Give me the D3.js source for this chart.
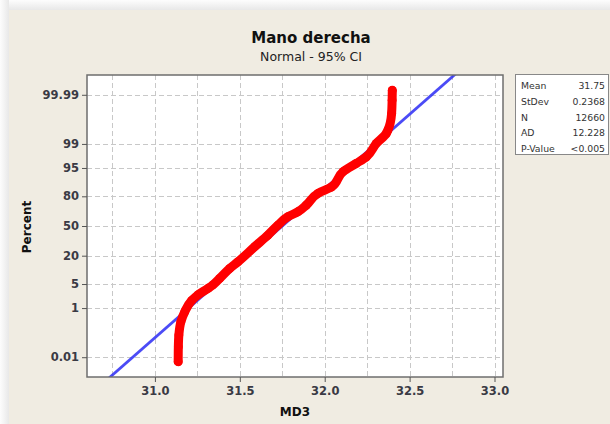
<!DOCTYPE html>
<html><head><meta charset="utf-8">
<script src="https://cdn.jsdelivr.net/npm/d3@7/dist/d3.min.js"></script>
<style>html,body{margin:0;padding:0;background:#fafafa;}svg{display:block;}</style>
</head><body><svg id="c" width="610" height="424"></svg>
<script>
// ---- data ----
const title = "Mano derecha";
const subtitle = "Normal - 95% CI";
const xLabel = "MD3";
const yLabel = "Percent";
const yTicks = [0.01, 1, 5, 20, 50, 80, 95, 99, 99.99];
const yTickLabels = ["0.01", "1", "5", "20", "50", "80", "95", "99", "99.99"];
const xTicks = [31.0, 31.5, 32.0, 32.5, 33.0];
const xTickLabels = ["31.0", "31.5", "32.0", "32.5", "33.0"];
const xGrid = [30.75, 31.0, 31.25, 31.5, 31.75, 32.0, 32.25, 32.5, 32.75, 33.0];
const mdValues   = [31.137, 31.138, 31.141, 31.153, 31.176, 31.216, 31.253, 31.314, 31.341, 31.382, 31.441, 31.488, 31.588, 31.666, 31.725, 31.784, 31.843, 31.892, 31.961, 32.039, 32.108, 32.186, 32.245, 32.304, 32.363, 32.372, 32.394, 32.397, 32.398];
const mdPercents = [0.006, 0.031, 0.1, 0.335, 0.76, 1.72, 2.53, 3.88, 4.73, 6.92, 11.5, 15.4, 27.9, 39.9, 51.1, 60.4, 65.7, 72.4, 82.3, 86.5, 93.8, 96.2, 97.5, 99.04, 99.57, 99.67, 99.93, 99.982, 99.994];
const fitMean = 31.75, fitSd = 0.2368;
const statLabels = ["Mean", "StDev", "N", "AD", "P-Value"];
const statValues = ["31.75", "0.2368", "12660", "12.228", "<0.005"];

// ---- helpers ----
function probit(p){
  const a=[-3.969683028665376e+01,2.209460984245205e+02,-2.759285104469687e+02,1.383577518672690e+02,-3.066479806614716e+01,2.506628277459239e+00];
  const b=[-5.447609879822406e+01,1.615858368580409e+02,-1.556989798598866e+02,6.680131188771972e+01,-1.328068155288572e+01];
  const c=[-7.784894002430293e-03,-3.223964580411365e-01,-2.400758277161838e+00,-2.549732539343734e+00,4.374664141464968e+00,2.938163982698783e+00];
  const d=[7.784695709041462e-03,3.224671290700398e-01,2.445134137142996e+00,3.754408661907416e+00];
  const pl=0.02425, ph=1-pl; let q,r;
  if(p<pl){q=Math.sqrt(-2*Math.log(p));return (((((c[0]*q+c[1])*q+c[2])*q+c[3])*q+c[4])*q+c[5])/((((d[0]*q+d[1])*q+d[2])*q+d[3])*q+1);}
  if(p<=ph){q=p-0.5;r=q*q;return (((((a[0]*r+a[1])*r+a[2])*r+a[3])*r+a[4])*r+a[5])*q/(((((b[0]*r+b[1])*r+b[2])*r+b[3])*r+b[4])*r+1);}
  q=Math.sqrt(-2*Math.log(1-p));return -(((((c[0]*q+c[1])*q+c[2])*q+c[3])*q+c[4])*q+c[5])/((((d[0]*q+d[1])*q+d[2])*q+d[3])*q+1);
}
function makeProbScale(zScale){
  const s = p => zScale(probit(p/100));
  s.domain = () => [0.01, 99.99];
  s.range = () => zScale.range();
  s.copy = () => makeProbScale(zScale.copy());
  return s;
}

const svg = d3.select("#c");
const L = 87, R = 503, T = 75, B = 377;
const zMax = 4.28;

// background panel
const defs = svg.append("defs");
const gl = defs.append("linearGradient").attr("id","shL").attr("x1",0).attr("x2",1).attr("y1",0).attr("y2",0);
gl.append("stop").attr("offset","0%").attr("stop-color","#fdfdfd");
gl.append("stop").attr("offset","100%").attr("stop-color","#e8e8e8");
const gt = defs.append("linearGradient").attr("id","shT").attr("x1",0).attr("x2",0).attr("y1",0).attr("y2",1);
gt.append("stop").attr("offset","0%").attr("stop-color","#fdfdfd");
gt.append("stop").attr("offset","100%").attr("stop-color","#e8e8e8");
svg.append("rect").attr("x",0).attr("y",0).attr("width",9).attr("height",424).attr("fill","url(#shL)");
svg.append("rect").attr("x",9).attr("y",0).attr("width",601).attr("height",10).attr("fill","url(#shT)");
svg.append("rect").attr("x",9).attr("y",10).attr("width",601).attr("height",414).attr("fill","#f0ece2");

const x = d3.scaleLinear().domain([30.6, 33.05]).range([L, R]);
const z = d3.scaleLinear().domain([-zMax, zMax]).range([B, T]);
const y = makeProbScale(z);

// plot area
svg.append("rect").attr("x",L).attr("y",T).attr("width",R-L).attr("height",B-T).attr("fill","#fff");
defs.append("clipPath").attr("id","clip").append("rect").attr("x",L).attr("y",T).attr("width",R-L).attr("height",B-T);

// grid
const grid = svg.append("g").attr("stroke","#c8c8c8").attr("stroke-width",1).attr("stroke-dasharray","5,3");
grid.selectAll("line.v").data(xGrid).join("line").attr("class","v")
  .attr("x1",d=>Math.round(x(d))+0.5).attr("x2",d=>Math.round(x(d))+0.5).attr("y1",T).attr("y2",B);
grid.selectAll("line.h").data(yTicks).join("line").attr("class","h")
  .attr("y1",d=>Math.round(y(d))+0.5).attr("y2",d=>Math.round(y(d))+0.5).attr("x1",L).attr("x2",R);

// fitted line
const g = svg.append("g").attr("clip-path","url(#clip)");
g.append("path").datum([-zMax-0.2, zMax+0.2])
  .attr("d", d3.line().x(d=>x(fitMean + d*fitSd)).y(d=>z(d)))
  .attr("stroke","#2b2bf5").attr("stroke-width",2.8).attr("stroke-opacity",0.85).attr("fill","none");

// data points
const pts = mdValues.map((v,i)=>({v, p: mdPercents[i]}));
g.append("path").datum(pts)
  .attr("d", d3.line().x(d=>x(d.v)).y(d=>y(d.p)).curve(d3.curveMonotoneY))
  .attr("stroke","#ff0000").attr("stroke-width",9).attr("stroke-linejoin","round").attr("stroke-linecap","round").attr("fill","none");
g.selectAll("circle").data(pts).join("circle")
  .attr("cx",d=>x(d.v)).attr("cy",d=>y(d.p)).attr("r",4.4).attr("fill","#ff0000");

// frame
svg.append("rect").attr("x",L).attr("y",T).attr("width",R-L).attr("height",B-T)
  .attr("fill","none").attr("stroke","#6e6e6e").attr("stroke-width",1.5);

// axes
const font = "DejaVu Sans, Verdana, sans-serif";
const yAxis = svg.append("g").attr("transform",`translate(${L},0)`)
  .call(d3.axisLeft(y).tickValues(yTicks).tickFormat((d,i)=>yTickLabels[i]).tickSize(5).tickPadding(3));
const xAxis = svg.append("g").attr("transform",`translate(0,${B})`)
  .call(d3.axisBottom(x).tickValues(xTicks).tickFormat((d,i)=>xTickLabels[i]).tickSize(5).tickPadding(5));
[yAxis, xAxis].forEach(a=>{
  a.select(".domain").remove();
  a.selectAll(".tick line").attr("stroke","#555");
  a.selectAll(".tick text").attr("font-family",font).attr("font-size","11.5px").attr("font-weight","bold").attr("fill","#3a3a44");
});

// titles
svg.append("text").attr("x",311).attr("y",43).attr("text-anchor","middle")
  .attr("font-family",font).attr("font-size","15px").attr("font-weight","bold").attr("fill","#111").text(title);
svg.append("text").attr("x",311).attr("y",61).attr("text-anchor","middle")
  .attr("font-family",font).attr("font-size","12.5px").attr("fill","#222").text(subtitle);
svg.append("text").attr("x",(L+R)/2).attr("y",416).attr("text-anchor","middle")
  .attr("font-family",font).attr("font-size","12px").attr("font-weight","bold").attr("fill","#111").text(xLabel);
svg.append("text").attr("transform",`translate(31,227) rotate(-90)`).attr("text-anchor","middle")
  .attr("font-family",font).attr("font-size","12px").attr("font-weight","bold").attr("fill","#111").text(yLabel);

// stats box
const bx = 515, by = 74, bw = 94, bh = 80;
svg.append("rect").attr("x",bx+0.5).attr("y",by+0.5).attr("width",bw-1).attr("height",bh).attr("fill","#fff").attr("stroke","#888");
const rowY = d3.scalePoint().domain(statLabels).range([89, 152]);
const sg = svg.append("g").attr("font-family",font).attr("font-size","9.3px").attr("fill","#333");
sg.selectAll("text.l").data(statLabels).join("text").attr("class","l")
  .attr("x",bx+6).attr("y",d=>rowY(d)).text(d=>d);
sg.selectAll("text.r").data(statValues).join("text").attr("class","r")
  .attr("x",bx+bw-4).attr("y",(d,i)=>rowY(statLabels[i])).attr("text-anchor","end").text(d=>d);
</script></body></html>
